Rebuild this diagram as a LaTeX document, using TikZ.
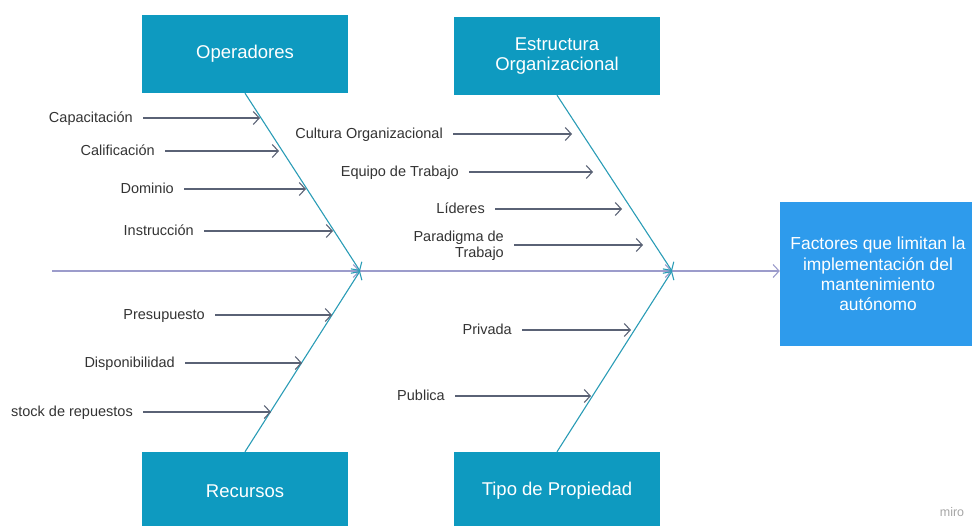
\documentclass[tikz,border=0pt]{standalone}
\usepackage{fontspec}
\setmainfont{Liberation Sans}
\usetikzlibrary{arrows.meta}

\definecolor{boxteal}{HTML}{0E9AC0}
\definecolor{effblue}{HTML}{2E9BEC}
\definecolor{bonecol}{HTML}{2A9CB6}
\definecolor{spinecol}{HTML}{9C9CCB}
\definecolor{subcol}{HTML}{5A6275}
\definecolor{txtcol}{HTML}{333333}

\tikzset{
  catbox/.style={rectangle, fill=boxteal, text=white, minimum width=206pt, minimum height=78pt,
    inner sep=0pt, align=center, font=\fontsize{18.5}{20}\selectfont},
  cause/.style={anchor=east, text=txtcol, inner xsep=10pt, inner ysep=0pt, align=right,
    text height=10.5pt, text depth=1pt, font=\fontsize{14.5}{16}\selectfont},
  barb/.style={-{Straight Barb[length=6pt,width=13pt]}, line width=1.1pt},
  bone/.style={barb, draw=bonecol},
  spine/.style={barb, draw=spinecol},
  sub/.style={barb, draw=subcol}
}

\begin{document}
\begin{tikzpicture}[x=1pt,y=-1pt]
  \clip (0,0) rectangle (972,525);
  \useasboundingbox (0,0) rectangle (972,525);

  % categorias
  \node[catbox] (oper) at (245,54) {Operadores};
  \node[catbox] (estr) at (557,56) {Estructura\\Organizacional};
  \node[catbox] (recu) at (245,491) {Recursos};
  \node[catbox] (tipo) at (557,491) {Tipo de Propiedad};

  % efecto
  \node[rectangle, fill=effblue, text=white, minimum width=196pt, minimum height=144pt,
    inner sep=0pt, align=center, font=\fontsize{17.4}{20.3}\selectfont] (efecto) at (878,274)
    {Factores que limitan la\\implementaci\'on del\\mantenimiento\\aut\'onomo};

  % espina
  \coordinate (cola) at (52,271);
  \coordinate (j1) at (360,271);
  \coordinate (j2) at (672,271);
  \draw[spine] (cola) -- (j1);
  \draw[spine] (j1) -- (j2);
  \draw[spine] (j2) -- (j2 -| efecto.west);

  \draw[bone] (oper.south) -- (j1);
  \draw[bone] (recu.north) -- (j1);
  \draw[bone] (estr.south) -- (j2);
  \draw[bone] (tipo.north) -- (j2);

  % Operadores
  \node[cause] (capa) at (143,118) {Capacitaci\'on};
  \node[cause] (cali) at (165,151) {Calificaci\'on};
  \node[cause] (domi) at (184,189) {Dominio};
  \node[cause] (inst) at (204,231) {Instrucci\'on};
  \coordinate (capat) at (260,118);
  \coordinate (calit) at (279,151);
  \coordinate (domit) at (306,189);
  \coordinate (instt) at (333,231);
  \draw[sub] (capa) -- (capat);
  \draw[sub] (cali) -- (calit);
  \draw[sub] (domi) -- (domit);
  \draw[sub] (inst) -- (instt);

  % Recursos
  \node[cause] (pres) at (215,315) {Presupuesto};
  \node[cause] (disp) at (185,363) {Disponibilidad};
  \node[cause] (stoc) at (143,412) {stock de repuestos};
  \coordinate (prest) at (332,315);
  \coordinate (dispt) at (302,363);
  \coordinate (stoct) at (271,412);
  \draw[sub] (pres) -- (prest);
  \draw[sub] (disp) -- (dispt);
  \draw[sub] (stoc) -- (stoct);

  % Estructura Organizacional
  \node[cause] (cult) at (453,134) {Cultura Organizacional};
  \node[cause] (equi) at (469,172) {Equipo de Trabajo};
  \node[cause] (lide) at (495,209) {L\'ideres};
  \node[cause, text height=26.5pt] (para) at (514,245) {Paradigma de\\Trabajo};
  \coordinate (cultt) at (572,134);
  \coordinate (equit) at (593,172);
  \coordinate (lidet) at (622,209);
  \coordinate (parat) at (643,245);
  \draw[sub] (cult) -- (cultt);
  \draw[sub] (equi) -- (equit);
  \draw[sub] (lide) -- (lidet);
  \draw[sub] (para) -- (parat);

  % Tipo de Propiedad
  \node[cause] (priv) at (522,330) {Privada};
  \node[cause] (publ) at (455,396) {Publica};
  \coordinate (privt) at (631,330);
  \coordinate (publt) at (591,396);
  \draw[sub] (priv) -- (privt);
  \draw[sub] (publ) -- (publt);

  \node[text=black!35, font=\fontsize{12.5}{14}\selectfont] (miro) at (952,512) {miro};
\end{tikzpicture}
\end{document}
